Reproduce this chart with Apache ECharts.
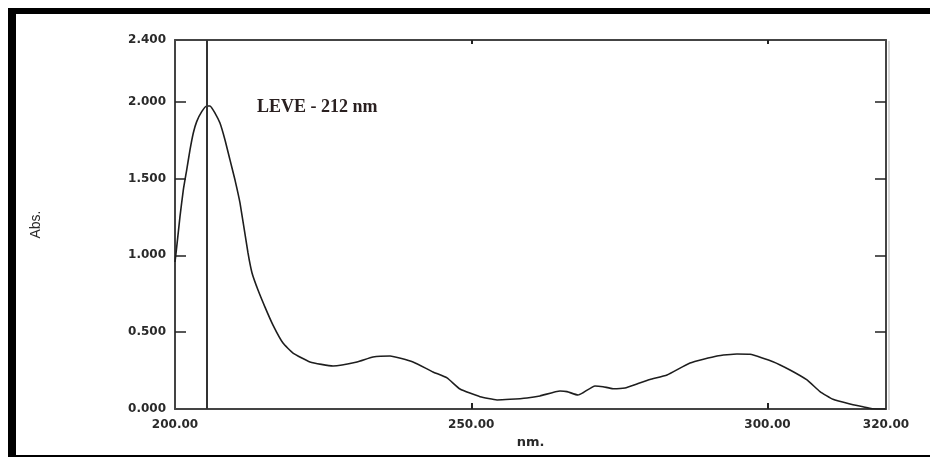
<!DOCTYPE html>
<html>
<head>
<meta charset="utf-8">
<title>UV spectrum</title>
<script src="https://cdn.jsdelivr.net/npm/echarts@6/dist/echarts.min.js"></script>
<style>
  html, body { margin: 0; padding: 0; background: #fff; }
  #chart { width: 930px; height: 457px; }
</style>
</head>
<body>
<div id="chart"></div>
<script>
// Absorption spectrum (wavelength in nm, absorbance)
const wavelengths = [
  200.00, 200.29, 200.84, 201.40, 201.97, 202.53, 203.09, 203.66, 204.51, 205.35,
  205.91, 206.75, 207.59, 208.44, 209.28, 210.13, 210.97, 212.32, 213.00, 214.01,
  215.19, 216.54, 218.23, 219.92, 222.78, 226.67, 230.72, 233.42, 236.29, 240.17,
  243.54, 245.91, 248.10, 251.48, 254.35, 256.54, 259.41, 261.60, 264.98, 266.16,
  268.02, 268.86, 270.89, 272.24, 273.92, 275.95, 277.97, 280.17, 283.04, 286.92,
  291.48, 294.85, 297.05, 300.93, 303.80, 306.67, 308.86, 311.05, 313.92, 316.12,
  317.64, 320.00
];
const absorbance = [
  0.956, 1.054, 1.251, 1.424, 1.554, 1.685, 1.795, 1.869, 1.934, 1.971,
  1.971, 1.925, 1.860, 1.750, 1.620, 1.489, 1.340, 1.015, 0.885, 0.774,
  0.663, 0.546, 0.429, 0.364, 0.306, 0.280, 0.306, 0.338, 0.345, 0.306,
  0.241, 0.202, 0.130, 0.080, 0.059, 0.063, 0.072, 0.085, 0.117, 0.113,
  0.091, 0.106, 0.150, 0.145, 0.132, 0.137, 0.163, 0.192, 0.221, 0.299,
  0.345, 0.358, 0.356, 0.308, 0.254, 0.189, 0.113, 0.063, 0.033, 0.015,
  0.002, 0.000
];

// Axis labels and tick marks
const xLabelValues = [200, 250, 300, 320];
const xTickValues = [250, 300];
const yLabelValues = [0, 0.5, 1, 1.5, 2, 2.4];
const yTickValues = [0.5, 1, 1.5, 2];

// Cursor line at the absorption maximum and its caption
const cursorNm = 205.4;
const captionText = 'LEVE - 212 nm';

const axisColor = '#444';
const textColor = '#2a2a2a';
const labelFont = { fontFamily: 'DejaVu Sans', fontSize: 12, fontWeight: 'bold', color: textColor };

const chart = echarts.init(document.getElementById('chart'), null, { renderer: 'canvas' });

chart.setOption({
  backgroundColor: '#fff',
  animation: false,
  grid: { left: 175, right: 44, top: 40, bottom: 48 },
  xAxis: [
    {
      type: 'value', position: 'bottom', min: 200, max: 320,
      name: 'nm.', nameLocation: 'middle', nameGap: 26,
      nameTextStyle: Object.assign({}, labelFont, { fontSize: 13 }),
      axisLine: { show: true, onZero: false, lineStyle: { color: axisColor, width: 2 } },
      axisTick: { show: true, inside: true, length: 6, customValues: xTickValues, lineStyle: { color: '#222', width: 2 } },
      axisLabel: Object.assign({ margin: 10, customValues: xLabelValues, formatter: v => v.toFixed(2) }, labelFont),
      splitLine: { show: false }
    },
    {
      type: 'value', position: 'top', min: 200, max: 320,
      axisLine: { show: true, onZero: false, lineStyle: { color: axisColor, width: 2 } },
      axisTick: { show: true, inside: true, length: 4, customValues: xTickValues, lineStyle: { color: '#222', width: 2 } },
      axisLabel: { show: false },
      splitLine: { show: false }
    }
  ],
  yAxis: [
    {
      type: 'value', position: 'left', min: 0, max: 2.4,
      name: 'Abs.', nameLocation: 'middle', nameGap: 132, nameRotate: 90,
      nameTextStyle: { fontFamily: 'Liberation Sans', fontSize: 14, color: textColor },
      axisLine: { show: true, onZero: false, lineStyle: { color: axisColor, width: 2 } },
      axisTick: { show: true, inside: true, length: 11, customValues: yTickValues, lineStyle: { color: '#222', width: 1.5 } },
      axisLabel: Object.assign({ margin: 9, customValues: yLabelValues, formatter: v => v.toFixed(3) }, labelFont),
      splitLine: { show: false }
    },
    {
      type: 'value', position: 'right', min: 0, max: 2.4,
      axisLine: { show: true, onZero: false, lineStyle: { color: axisColor, width: 2 } },
      axisTick: { show: true, inside: true, length: 11, customValues: yTickValues, lineStyle: { color: '#222', width: 1.5 } },
      axisLabel: { show: false },
      splitLine: { show: false }
    }
  ],
  series: [
    {
      type: 'line',
      xAxisIndex: 0, yAxisIndex: 0,
      data: wavelengths.map((w, i) => [w, absorbance[i]]),
      showSymbol: false,
      smooth: 0.15,
      lineStyle: { color: '#1e1e1e', width: 1.6 },
      markLine: {
        silent: true,
        symbol: 'none',
        label: { show: false },
        lineStyle: { color: '#333', width: 2, type: 'solid' },
        data: [{ xAxis: cursorNm }]
      }
    }
  ],
  graphic: [
    // page frame: heavy bars on the left and top, thin rule at the bottom
    { type: 'rect', shape: { x: 8, y: 8, width: 8, height: 449 }, style: { fill: '#000' } },
    { type: 'rect', shape: { x: 8, y: 8, width: 922, height: 6 }, style: { fill: '#000' } },
    { type: 'rect', shape: { x: 8, y: 455, width: 922, height: 2 }, style: { fill: '#000' } },
    // faint shadow along the right edge of the plot frame
    { type: 'rect', shape: { x: 888, y: 41, width: 2, height: 369 }, style: { fill: '#d8d8d8' } },
    {
      type: 'text', left: 257, top: 98,
      style: { text: captionText, font: 'bold 18px "Liberation Serif"', fill: '#2a2020' }
    }
  ]
});
</script>
</body>
</html>
